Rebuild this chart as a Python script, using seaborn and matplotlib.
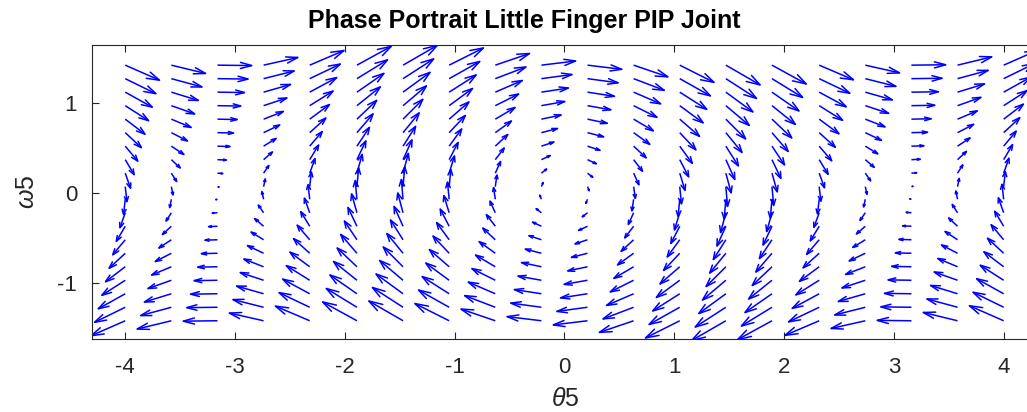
import numpy as np
import matplotlib
matplotlib.use("Agg")
import matplotlib.pyplot as plt
import seaborn as sns

# Grid of joint angles (rad) and angular velocities (rad/s)
theta5 = [-4.00, -3.58, -3.16, -2.74, -2.32, -1.89, -1.47, -1.05, -0.63, -0.21,
          0.21, 0.63, 1.05, 1.47, 1.89, 2.32, 2.74, 3.16, 3.58, 4.00]
omega5 = [-1.42, -1.27, -1.12, -0.97, -0.82, -0.67, -0.52, -0.37, -0.22, -0.07,
          0.07, 0.22, 0.37, 0.52, 0.67, 0.82, 0.97, 1.12, 1.27, 1.42]
# Angular acceleration at each angle column
alpha5 = [-0.76, -0.42, -0.02, 0.39, 0.74, 0.95, 1.00, 0.87, 0.59, 0.21,
          -0.21, -0.59, -0.87, -1.00, -0.95, -0.74, -0.39, 0.02, 0.42, 0.76]

title = "Phase Portrait Little Finger PIP Joint"
xticks = [-4, -3, -2, -1, 0, 1, 2, 3, 4]
yticks = [-1, 0, 1]

sns.set_theme(style="white")
plt.rcParams["font.family"] = ["Liberation Sans", "DejaVu Sans"]
plt.rcParams["axes.unicode_minus"] = False
plt.rcParams["mathtext.fontset"] = "custom"
plt.rcParams["mathtext.it"] = "Liberation Sans:italic"
plt.rcParams["mathtext.rm"] = "Liberation Sans"

W, H = 1027, 412
fig = plt.figure(figsize=(W / 100, H / 100), dpi=100)
ax = fig.add_axes([92.3 / W, 72.7 / H, 945.4 / W, 294.3 / H])

# Vector field: d(theta)/dt = omega, d(omega)/dt = alpha(theta)
TH, OM = np.meshgrid(theta5, omega5)
U = OM
V = np.tile(np.array(alpha5), (len(omega5), 1))

# Automatic arrow scaling (fit longest arrow inside one grid cell)
n = np.sqrt(TH.size)
delx = (max(theta5) - min(theta5)) / n
dely = (max(omega5) - min(omega5)) / n
dl = delx ** 2 + dely ** 2
maxlen = np.max(np.sqrt((U ** 2 + V ** 2) / dl))
k = 0.9 / maxlen
u = (U * k).ravel()
v = (V * k).ravel()
x = TH.ravel()
y = OM.ravel()

# Shafts and open arrowheads
a, b = 0.33, 0.33
nan = np.full_like(x, np.nan)
sx = np.column_stack([x, x + u, nan]).ravel()
sy = np.column_stack([y, y + v, nan]).ravel()
hx = np.column_stack([x + u - a * (u + b * v), x + u, x + u - a * (u - b * v), nan]).ravel()
hy = np.column_stack([y + v - a * (v - b * u), y + v, y + v - a * (v + b * u), nan]).ravel()
ax.plot(sx, sy, color="#0000ff", lw=1.1, solid_capstyle="butt")
ax.plot(hx, hy, color="#0000ff", lw=1.1)

ax.set_xlim(-4.30, 4.31)
ax.set_ylim(-1.626, 1.644)
ax.set_xticks(xticks)
ax.set_yticks(yticks)
ax.set_xticklabels([str(t) for t in xticks])
ax.set_yticklabels([str(t) for t in yticks])

dark = "#262626"
for s in ax.spines.values():
    s.set_color(dark)
    s.set_linewidth(0.8)
ax.tick_params(direction="in", length=5, width=0.8, color=dark, labelcolor=dark,
               labelsize=16, top=True, right=True, bottom=True, left=True)
ax.tick_params(axis="x", pad=13)
ax.tick_params(axis="y", pad=11)

ax.set_xlabel(r"$\theta$5", fontsize=18, color=dark, labelpad=6)
ax.set_ylabel(r"$\omega$5", fontsize=18, color=dark, labelpad=13)

fig.text(524 / W, 1 - 28 / H, title, ha="center", va="baseline",
         fontsize=18, fontweight="bold", color="black")

fig.savefig("out.png", dpi=100)
